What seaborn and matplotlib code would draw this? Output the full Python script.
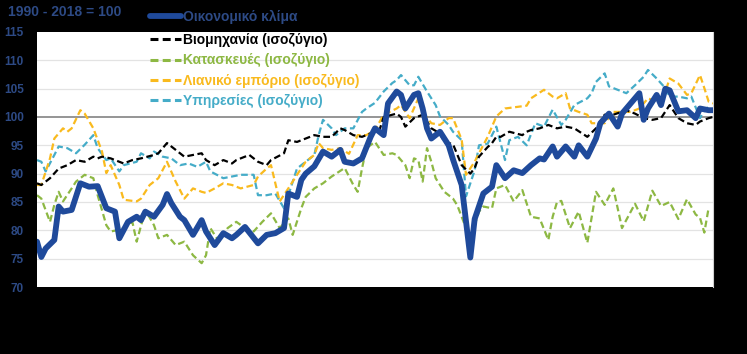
import matplotlib
matplotlib.use("Agg")
import matplotlib.pyplot as plt
import seaborn as sns
import pandas as pd
from matplotlib.lines import Line2D

# ---- data (month index, value) ----
blue_m = [0,1,2,4,5,6,8,10,12,14,16,18,19,21,23,24,25,27,29,30,31,33,34,36,38,39,41,43,45,46,48,51,53,55,57,58,60,61,62,64,66,68,70,71,73,75,77,78,80,81,83,84,85,87,88,89,90,91,93,95,96,98,100,101,103,105,106,108,110,112,114,116,117,119,120,122,124,125,127,129,130,132,134,135,138,139,140,141,143,144,145,146,148,150,152,153,155,156]
blue_v = [78,75.3,76.8,78.3,84.2,83.3,83.6,88.3,87.7,87.8,83.9,83.3,78.6,81.5,82.4,81.8,83.3,82.4,84.5,86.4,84.8,82.4,81.8,79.2,81.8,79.8,77.4,79.5,78.6,79.2,80.6,77.7,79.2,79.5,80.4,86.5,85.9,88.9,90,91.3,93.9,93,94.2,92.1,91.8,92.7,96.5,98,96.8,102.4,104.5,103.9,101.5,103.9,104.2,101.5,98,96.2,97.4,95,92.5,88,75.2,82,86.5,87.7,91.5,89.2,90.6,90.1,91.5,92.7,92.5,94.8,93,94.8,93,95,93,96.2,98.9,100.6,98.3,100.6,103.3,104.2,99.5,101.5,103.9,102.1,105,104.7,101,101.2,99.8,101.5,101.2,101.2]

black_m = [0,1,3,5,7,9,11,13,14,15,17,20,22,24,27,28,30,32,34,36,38,39,41,43,45,46,49,51,53,54,57,58,60,63,64,66,68,70,71,73,75,77,79,80,83,84,85,87,89,91,93,94,96,98,100,101,102,104,105,106,107,109,112,113,114,116,117,118,120,122,124,127,129,131,133,136,138,140,142,144,146,148,150,152,153,155,156]
black_v = [88.3,88,89.2,90.9,91.5,92.4,92.1,93,92.7,93,92.7,91.8,92.4,92.7,93.3,93.6,95.4,94.2,93,93.3,93.6,92.4,91.5,92.4,91.8,92.4,93.3,92.1,91.5,92.4,93.6,95.9,95.6,96.5,96.8,96.5,96.5,98,97.7,96.8,96.5,97.1,97.6,100,100.6,100,98.3,99.8,100.4,98,97.1,95.6,95.2,91.5,90,91,93,94.7,95.4,96.5,96.5,97.4,96.8,97.4,97.7,98,98.3,98.6,98,98.3,98,96.5,98,100.4,100.4,101.2,100.6,99.8,99.5,99.8,102.1,99.8,98.9,98.6,99.2,99.8,100]

green_m = [0,1,3,4,5,6,8,9,11,13,14,16,17,19,20,22,23,25,27,28,30,32,34,36,38,39,40,42,44,46,48,50,52,54,56,58,59,61,62,64,66,68,71,73,74,75,76,78,80,82,83,85,86,87,88,89,90,91,92,94,96,97,98,99,100,101,102,103,105,106,108,110,112,114,116,118,119,120,121,123,125,127,129,131,133,135,138,140,142,144,146,148,150,152,153,154,155]
green_v = [86.2,85.6,81.5,84.5,86.8,85.1,87.4,88.6,89.8,89.2,86.2,80.9,79.8,80.1,80.4,81.5,78,83.6,80.9,78.6,79.2,77.4,78,75.6,74.2,75.6,80.4,78,80.4,81.5,80.4,79.8,81.5,83,80.4,82.1,79.2,83.9,85.9,87.4,88.3,89.5,91,88,86.8,90.9,94.5,95.6,93.3,93.6,93.3,91.5,89.2,92.7,92.4,88.6,94.5,92.1,89.2,86.8,85.6,84.4,82.4,80.4,78.2,80.9,83.3,84.2,83.9,87.4,88,85.1,87.1,82.4,82.1,78.3,82.4,85,85.2,80.4,83.3,77.8,86.8,84.5,87.4,80.4,84.7,81.6,87,84.3,85,82,85.5,82.8,82.2,79.6,84]

orange_m = [0,1,3,4,6,7,8,10,11,13,15,16,17,19,20,23,24,26,28,30,32,34,36,38,39,41,43,45,47,50,51,53,54,56,58,60,62,64,65,66,68,70,72,74,76,78,80,83,84,86,88,89,91,93,95,96,98,99,101,102,104,106,108,111,113,114,117,118,119,120,122,123,125,127,128,131,133,135,137,139,141,143,144,146,148,150,151,153,154,155,156]
orange_v = [88,88,92.7,96.2,98,97.4,98,101.2,100.6,98,93.9,90.1,91.5,88,85.4,85.1,85.6,88,89.2,92.1,88.6,85.6,87.4,86.8,86.6,87.4,88.3,88,87.4,88,89.5,90.9,91.5,85.1,87.4,89.8,92.1,93.3,95.4,94.5,94.2,94.5,93.5,96.8,96.8,97.7,100.4,101.5,102.1,99.8,103.3,100.9,98.9,98.6,99.8,99.8,96,89.8,92.1,93.6,96.5,100.1,101.5,101.8,102,103.3,104.8,104.2,103.6,103.3,104.2,101.5,100.9,100.4,98.9,98.9,100.9,100.9,100.9,101.5,103.3,102.7,102.1,106.8,105.9,103.9,104.2,107.4,105.1,102.7,102.4]

teal_m = [0,1,2,4,5,7,9,11,13,14,16,17,19,20,23,24,26,27,29,31,33,35,37,39,40,43,45,47,50,51,53,55,57,58,60,62,64,65,66,68,69,71,73,75,76,78,80,82,83,84,86,87,88,90,92,93,95,96,98,99,101,102,104,106,108,109,111,113,115,117,119,121,122,124,127,128,129,131,132,134,136,138,140,141,143,145,146,148,150,151,153,154,155]
teal_v = [92.4,92.1,90.4,93.3,94.8,94.5,93.6,95.1,96.8,94.5,92.4,92.7,90.4,91.5,92.1,93.6,92.7,93.9,93,92.7,91.5,91.8,91.2,92.1,90.4,89.2,89.5,89.8,89.8,86.2,86.2,86.5,83.9,86.2,90.9,92.1,93.3,96.8,99.5,98,96.8,98,98,100.9,101.5,102.5,104.5,106,106.5,107.4,105.6,105.6,107.1,104.5,102.1,100.1,98.6,97.4,95.9,86,90.6,95,95.3,98.3,92.4,95.9,96.5,95,98.9,98.3,101.3,98.6,99.5,102.1,103.3,104.2,106.2,107.7,105.4,104.8,104.2,105.6,107.1,108.3,106.8,105.1,103.6,103.6,103.3,103.6,99.8,101.2,101.8]

labels = ["Οικονομικό κλίμα", "Βιομηχανία (ισοζύγιο)", "Κατασκευές (ισοζύγιο)",
          "Λιανικό εμπόριο (ισοζύγιο)", "Υπηρεσίες (ισοζύγιο)"]
y_ticks = [70, 75, 80, 85, 90, 95, 100, 105, 110, 115]
base_note = "1990 - 2018 = 100"

series = [(blue_m, blue_v), (black_m, black_v), (green_m, green_v),
          (orange_m, orange_v), (teal_m, teal_v)]
for m, v in series:
    assert len(m) == len(v), (len(m), len(v))

colors = ["#1F4A9B", "#000000", "#8DB843", "#F9BA1E", "#45ACC8"]
widths = [4.2, 1.6, 1.6, 1.6, 1.6]
label_color = "#2D4A85"

sns.set_style("white")
plt.rcParams["font.family"] = ["Liberation Sans", "DejaVu Sans"]

fig = plt.figure(figsize=(7.47, 3.54), dpi=100, facecolor="black")
ax = fig.add_axes([37/747, 1-287/354, (713-37)/747, (287-32)/354])
ax.set_facecolor("white")

for yv in y_ticks:
    if yv == 100:
        ax.axhline(yv, color="#8C8C8C", lw=1.3, zorder=1)
    elif yv not in (70, 115):
        ax.axhline(yv, color="#E3E3E3", lw=0.9, zorder=0)

order = [4, 3, 2, 1, 0]
for i in order:
    m, v = series[i]
    df = pd.DataFrame({"month": m, "value": v})
    kw = dict(color=colors[i], lw=widths[i], zorder=3 + (5 - i))
    if i == 0:
        kw.update(solid_joinstyle="round", solid_capstyle="round", zorder=9)
    else:
        kw.update(dashes=(3, 1.6))
    sns.lineplot(data=df, x="month", y="value", ax=ax, **kw)

handles = []
for i in range(5):
    if i == 0:
        h = Line2D([], [], color=colors[i], lw=widths[i])
    else:
        h = Line2D([], [], color=colors[i], lw=2.2, dashes=(2.6, 1.4))
    handles.append(h)

ax.set_xlim(0, 156)
ax.set_ylim(70, 115)
ax.set_yticks(y_ticks)
ax.set_xticks([])
ax.set_xlabel("")
ax.set_ylabel("")
for s in ["top", "left", "bottom"]:
    ax.spines[s].set_visible(False)
ax.spines["right"].set_color("#D0D0D0")
ax.tick_params(axis="y", length=0, pad=9.5, labelsize=8.5, labelcolor=label_color)
for t in ax.get_yticklabels():
    t.set_fontweight("bold")

fig.text(8/747, 1-12/354, base_note, color=label_color, fontsize=10,
         fontweight="bold", va="center", ha="left")

leg_kw = dict(loc="upper left", frameon=False, borderpad=0, borderaxespad=0,
              handlelength=2.2, handletextpad=0.2,
              prop={"size": 10, "weight": "bold"})
leg1 = fig.legend(handles[:1], labels[:1], bbox_to_anchor=(150/747, 1-10/354),
                  **leg_kw)
leg1.get_texts()[0].set_color(label_color)
leg2 = fig.legend(handles[1:], labels[1:], bbox_to_anchor=(150/747, 1-33/354),
                  labelspacing=0.46, **leg_kw)
for txt, c in zip(leg2.get_texts(), colors[1:]):
    txt.set_color(c)

fig.savefig("out.png", dpi=100, facecolor="black")
